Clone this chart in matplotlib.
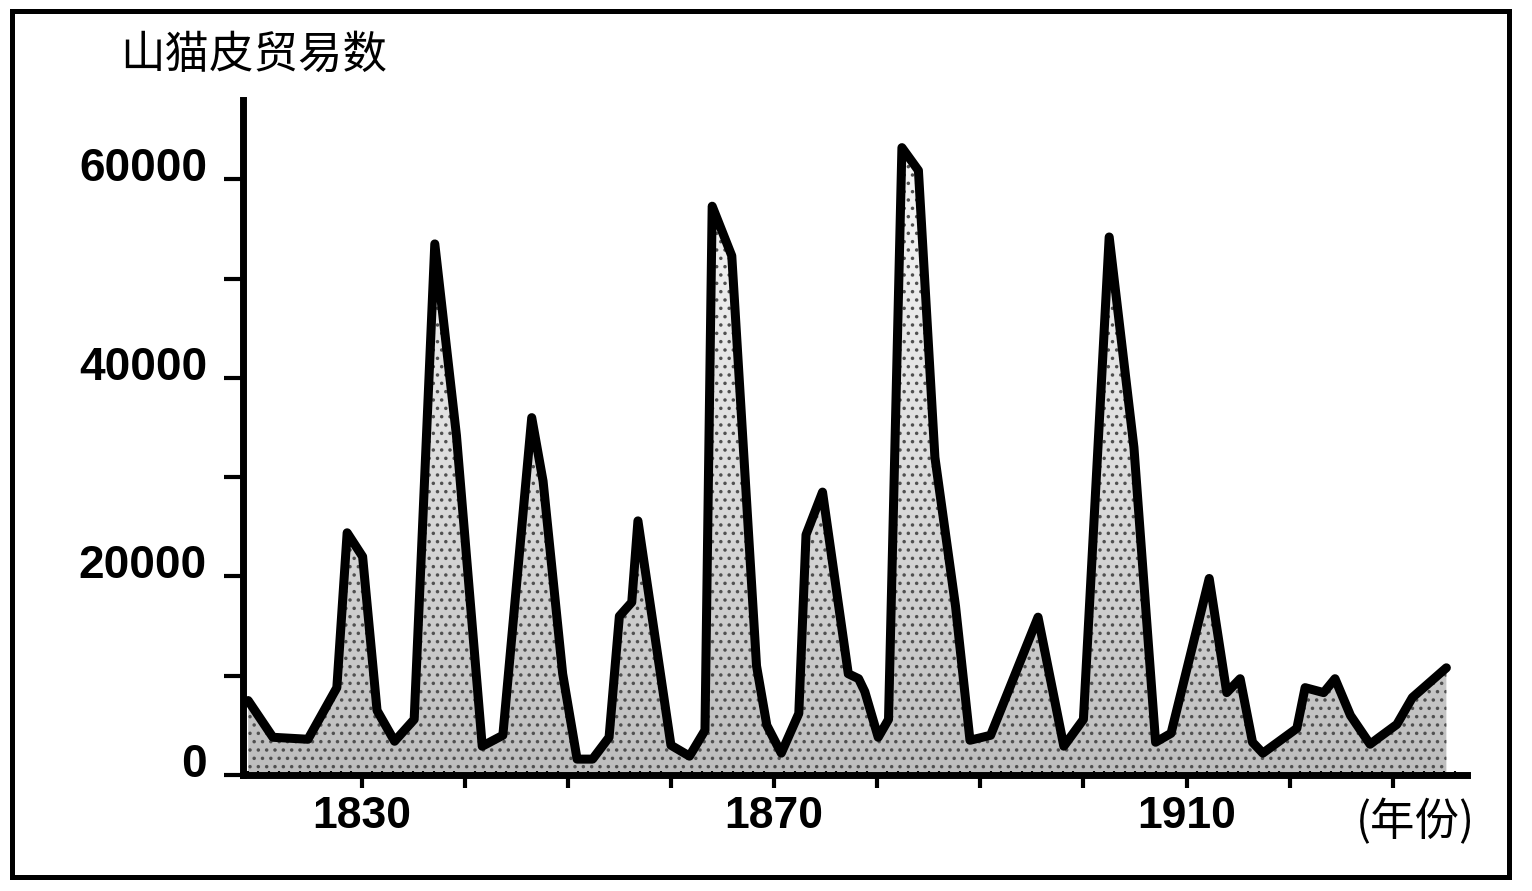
import numpy as np
import matplotlib.pyplot as plt
from matplotlib.patches import Rectangle
from matplotlib.colors import LinearSegmentedColormap
from matplotlib.transforms import ScaledTranslation

plt.rcParams['font.family'] = ['Liberation Sans', 'Noto Sans CJK SC', 'DejaVu Sans']
plt.rcParams['hatch.linewidth'] = 1.3

# Lynx fur trade counts (year, number of pelts)
years = [1819.0, 1821.4, 1824.8, 1827.6, 1828.6, 1830.1, 1831.5, 1833.2, 1835.1, 1837.1,
         1839.2, 1841.7, 1843.7, 1846.5, 1847.6, 1849.5, 1850.9, 1852.4, 1854.0, 1855.0,
         1856.2, 1856.8, 1860.0, 1861.8, 1863.3, 1864.0, 1865.9, 1868.3, 1869.3, 1870.7,
         1872.4, 1873.1, 1874.7, 1877.2, 1878.2, 1878.8, 1880.1, 1881.1, 1882.4, 1884.0,
         1885.6, 1887.6, 1889.0, 1891.0, 1895.6, 1898.1, 1900.0, 1902.5, 1904.9, 1907.0,
         1908.5, 1912.2, 1913.9, 1915.2, 1916.4, 1917.4, 1920.7, 1921.5, 1923.3, 1924.4,
         1925.9, 1927.8, 1928.7, 1930.4, 1931.9, 1935.2]
pelts = [7500, 3800, 3600, 8800, 24400, 22000, 6500, 3400, 5600, 53500,
         34200, 2900, 4000, 36000, 29600, 10200, 1600, 1600, 3800, 16000,
         17400, 25600, 3000, 1900, 4500, 57300, 52300, 11000, 5000, 2200,
         6200, 24200, 28500, 10200, 9700, 8400, 3800, 5600, 63200, 60900,
         32000, 17000, 3500, 4000, 15900, 2900, 5600, 54200, 33000, 3300,
         4200, 19800, 8300, 9700, 3300, 2200, 4700, 8800, 8300, 9700,
         6000, 3100, 3800, 5100, 7800, 10800]

ytick_vals = [0, 10000, 20000, 30000, 40000, 50000, 60000]
ytick_labels = ['0', '', '20000', '', '40000', '', '60000']
xtick_vals = [1830, 1840, 1850, 1860, 1870, 1880, 1890, 1900, 1910, 1920, 1930]
xtick_labels = ['1830', '', '', '', '1870', '', '', '', '1910', '', '']

fig = plt.figure(figsize=(15.32, 8.91), dpi=100)
ax = fig.add_axes([243/1532, 1 - 775/891, (1467-243)/1532, (775-100)/891])
ax.set_xlim(1818.5, 1937.2)
ax.set_ylim(0, 68000)

# halftone-like shading: light near the peaks, darker towards the base
poly = ax.fill_between(years, pelts, 0, facecolor='none', edgecolor='none')
cmap = LinearSegmentedColormap.from_list('screen', ['#f8f8f8', '#dedede', '#bdbdbd'])
grad = np.linspace(0, 1, 256).reshape(-1, 1)
img = ax.imshow(grad, aspect='auto', cmap=cmap, extent=[1818.5, 1937.2, 0, 64000],
                origin='upper', zorder=1)
img.set_clip_path(poly.get_paths()[0], transform=ax.transData)
ax.fill_between(years, pelts, 0, facecolor='none', edgecolor='#505050',
                hatch='..', linewidth=0, zorder=2)

ax.plot(years, pelts, color='black', lw=6.5, solid_joinstyle='round',
        solid_capstyle='round', zorder=3)

for s in ['top', 'right']:
    ax.spines[s].set_visible(False)
ax.spines['left'].set_linewidth(5)
ax.spines['bottom'].set_linewidth(5)

ax.set_yticks(ytick_vals, ytick_labels, fontsize=33, fontweight='bold')
ax.set_xticks(xtick_vals, xtick_labels, fontsize=32, fontweight='bold')
ax.set_xticks(np.arange(1819, 1937), minor=True)
ax.tick_params(axis='y', direction='out', length=14, width=3, pad=12)
ax.tick_params(axis='x', direction='out', length=9, width=3, pad=6)
ax.tick_params(axis='x', which='minor', direction='in', length=3, width=1.5)
ax.tick_params(axis='y', which='minor', left=False)

# y labels sit a little above their ticks in the original
for lab in ax.get_yticklabels():
    lab.set_transform(lab.get_transform() + ScaledTranslation(0, 0.15, fig.dpi_scale_trans))

fig.text(120/1532, 1 - 55/891, '山猫皮贸易数', fontsize=32, va='center', ha='left',
         family=['Noto Sans CJK SC', 'DejaVu Sans'])
fig.text(1415/1532, 1 - 822/891, '(年份)', fontsize=32, va='center', ha='center',
         family=['Noto Sans CJK SC', 'DejaVu Sans'])

fig.patches.append(Rectangle((12/1532, 14/891), (1509-12)/1532, (880-14)/891,
                             transform=fig.transFigure, fill=False, lw=3.6,
                             ec='black'))

fig.savefig('out.png', dpi=100, facecolor='white')
